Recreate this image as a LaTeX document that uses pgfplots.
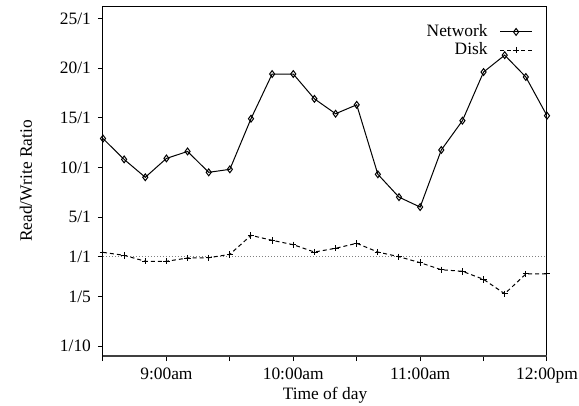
\documentclass[border=0pt]{standalone}
\usepackage{fontspec}
\setmainfont{Liberation Serif}
\usepackage{pgfplots}
\pgfplotsset{compat=1.18}
\newcommand\ff{\fontsize{8.7}{10}\selectfont}

\pgfplotstableread{
t   net    disk
0   12.9   1.44
10  10.8   1.14
20  9.0    0.54
30  10.9   0.54
40  11.6   0.87
50  9.5    0.90
60  9.8    1.24
70  14.9   3.15
80  19.4   2.65
90  19.4   2.21
100 16.9   1.47
110 15.4   1.85
120 16.3   2.35
130 9.3    1.47
140 7.0    1.00
150 6.0    0.40
160 11.75  -0.31
170 14.7   -0.47
180 19.6   -1.28
190 21.3   -2.73
200 19.1   -0.74
210 15.2   -0.74
}\ratios

\begin{document}
\begin{tikzpicture}
\begin{axis}[
  name=ax,
  scale only axis, width=222pt, height=175pt,
  xmin=0, xmax=210, ymin=-9, ymax=26.25,
  xtick={0,30,...,210},
  xticklabels={,9:00am,,10:00am,,11:00am,,12:00pm},
  ytick={-8,-3,1,5,10,15,20,25},
  yticklabels={1/10,1/5,1/1,5/1,10/1,15/1,20/1,25/1},
  tick align=outside, xtick pos=bottom, ytick pos=left,
  major tick length=2.5pt,
  tick style={black, line width=0.5pt},
  axis line style={line width=0.5pt},
  tick label style={font=\ff},
  /pgf/number format/assume math mode=true,
  xlabel={Time of day}, ylabel={Read/Write Ratio},
  label style={font=\ff},
  xlabel style={yshift=5pt},
  ylabel style={at={(axis description cs:0,0.5)}, anchor=center, xshift=0pt, yshift=38.5pt},
  legend style={draw=none, fill=none, font=\ff, at={(1,1)}, anchor=north east,
    xshift=-7pt, yshift=-7pt, inner sep=0pt, row sep=-2.5pt,
    cells={anchor=east}},
  legend plot pos=right,
  legend image code/.code={\path (0pt,0pt);
    \draw[mark repeat=2,mark phase=2,#1]
    plot coordinates {(4pt,0pt) (12pt,0pt) (20pt,0pt)};},
]
\addplot[gray, line width=0.4pt, dash pattern=on 0.5pt off 1pt, forget plot]
  coordinates {(0,1) (210,1)};
\addplot[black, line width=0.5pt, mark=diamond, mark size=1.7pt,
  mark options={solid, line width=0.5pt}] table[x=t, y=net] {\ratios};
\addplot[black, line width=0.5pt, dash pattern=on 2pt off 1.5pt, mark=+, mark size=1.6pt,
  mark options={solid, line width=0.5pt}] table[x=t, y=disk] {\ratios};
\legend{Network, Disk}
\draw[black!75, line width=1pt] (rel axis cs:0,0) -- (rel axis cs:1,0);
\end{axis}
\pgfresetboundingbox
\path[use as bounding box] ([xshift=-51.5pt,yshift=-24.5pt]ax.south west)
  rectangle ([xshift=16pt,yshift=3pt]ax.north east);
\end{tikzpicture}
\end{document}
